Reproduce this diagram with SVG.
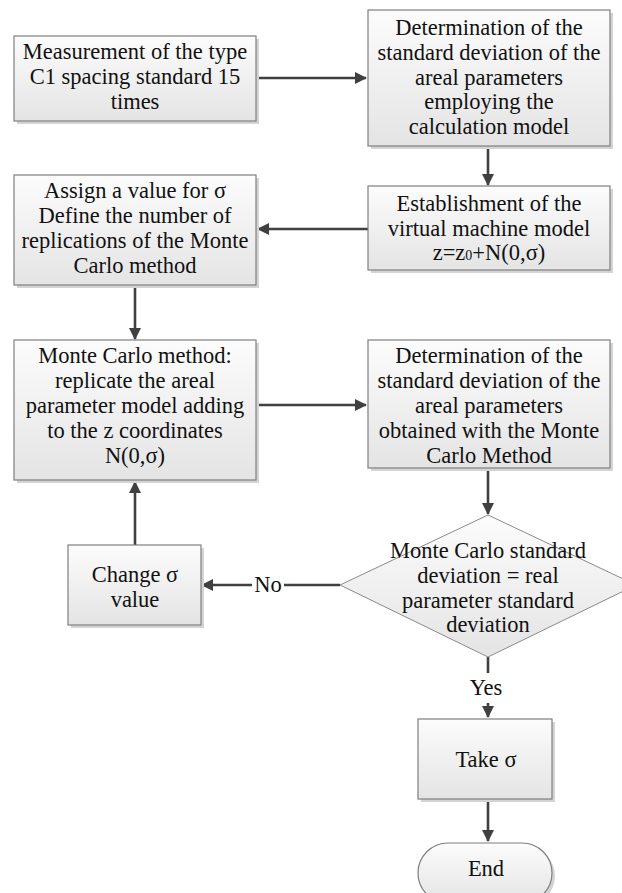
<svg xmlns="http://www.w3.org/2000/svg" width="622" height="893" viewBox="0 0 622 893">
<style>
.box{fill:url(#g);stroke:#7f7f7f;stroke-width:1.2}
.sh{fill:#d4d4d4}
.t{font-family:"Liberation Serif","DejaVu Serif",serif;font-size:22.5px;fill:#111;text-anchor:middle}
.c{stroke:#404040;stroke-width:2.6;fill:none}
</style>
<defs>
<linearGradient id="g" x1="0" y1="0" x2="0" y2="1">
<stop offset="0" stop-color="#fcfcfc"/>
<stop offset="1" stop-color="#e4e4e4"/>
</linearGradient>
<marker id="a" markerWidth="12" markerHeight="12" refX="11" refY="6" orient="auto" markerUnits="userSpaceOnUse">
<path d="M0,0 L12,6 L0,12 z" fill="#404040"/>
</marker>
</defs>
<g id="connectors">
<line class="c" x1="256" y1="78" x2="366" y2="78" marker-end="url(#a)"/>
<line class="c" x1="488" y1="146" x2="488" y2="185" marker-end="url(#a)"/>
<line class="c" x1="368" y1="229" x2="258" y2="229" marker-end="url(#a)"/>
<line class="c" x1="135" y1="286" x2="135" y2="339" marker-end="url(#a)"/>
<line class="c" x1="256" y1="405" x2="366" y2="405" marker-end="url(#a)"/>
<line class="c" x1="488" y1="471" x2="488" y2="514" marker-end="url(#a)"/>
<line class="c" x1="340" y1="585" x2="284" y2="585"/>
<line class="c" x1="252" y1="585" x2="202" y2="585" marker-end="url(#a)"/>
<text class="t" x="268" y="592">No</text>
<line class="c" x1="135" y1="545" x2="135" y2="482" marker-end="url(#a)"/>
<line class="c" x1="488" y1="657" x2="488" y2="673"/>
<text class="t" x="486" y="695">Yes</text>
<line class="c" x1="488" y1="703" x2="488" y2="717" marker-end="url(#a)"/>
<line class="c" x1="488" y1="799" x2="488" y2="841" marker-end="url(#a)"/>
</g>
<g id="n1">
<rect class="sh" x="17" y="39" width="242" height="85"/>
<rect class="box" x="14" y="36" width="242" height="85"/>
<text class="t" x="135" y="59">Measurement of the type</text>
<text class="t" x="135" y="84">C1 spacing standard 15</text>
<text class="t" x="135" y="109">times</text>
</g>
<g id="n2">
<rect class="sh" x="371" y="13" width="242" height="136"/>
<rect class="box" x="368" y="10" width="242" height="136"/>
<text class="t" x="489" y="35">Determination of the</text>
<text class="t" x="489" y="60">standard deviation of the</text>
<text class="t" x="489" y="85">areal parameters</text>
<text class="t" x="489" y="109">employing the</text>
<text class="t" x="489" y="134">calculation model</text>
</g>
<g id="n3">
<rect class="sh" x="371" y="189" width="242" height="84"/>
<rect class="box" x="368" y="186" width="242" height="84"/>
<text class="t" x="489" y="211">Establishment of the</text>
<text class="t" x="489" y="236">virtual machine model</text>
<text class="t" x="489" y="260">z=z<tspan font-size="14">0</tspan>+N(0,σ)</text>
</g>
<g id="n4">
<rect class="sh" x="17" y="178" width="242" height="110"/>
<rect class="box" x="14" y="175" width="242" height="110"/>
<text class="t" x="135" y="198">Assign a value for σ</text>
<text class="t" x="135" y="223">Define the number of</text>
<text class="t" x="135" y="248">replications of the Monte</text>
<text class="t" x="135" y="273">Carlo method</text>
</g>
<g id="n5">
<rect class="sh" x="17" y="343" width="242" height="140"/>
<rect class="box" x="14" y="340" width="242" height="140"/>
<text class="t" x="135" y="363">Monte Carlo method:</text>
<text class="t" x="135" y="388">replicate the areal</text>
<text class="t" x="135" y="413">parameter model adding</text>
<text class="t" x="135" y="438">to the z coordinates</text>
<text class="t" x="135" y="463">N(0,σ)</text>
</g>
<g id="n6">
<rect class="sh" x="371" y="343" width="242" height="128"/>
<rect class="box" x="368" y="340" width="242" height="128"/>
<text class="t" x="489" y="363">Determination of the</text>
<text class="t" x="489" y="388">standard deviation of the</text>
<text class="t" x="489" y="413">areal parameters</text>
<text class="t" x="489" y="438">obtained with the Monte</text>
<text class="t" x="489" y="463">Carlo Method</text>
</g>
<g id="n7">
<polygon points="488,515 636,585 488,657 340,585" fill="url(#g)" stroke="#8a8a8a" stroke-width="1"/>
<text class="t" x="488" y="558">Monte Carlo standard</text>
<text class="t" x="488" y="583">deviation = real</text>
<text class="t" x="488" y="608">parameter standard</text>
<text class="t" x="488" y="632">deviation</text>
</g>
<g id="n8">
<rect class="sh" x="71" y="548" width="133" height="80"/>
<rect class="box" x="68" y="545" width="133" height="80"/>
<text class="t" x="135" y="582">Change σ</text>
<text class="t" x="135" y="607">value</text>
</g>
<g id="n9">
<rect class="sh" x="421" y="722" width="134" height="80"/>
<rect class="box" x="418" y="719" width="134" height="80"/>
<text class="t" x="486" y="767">Take σ</text>
</g>
<g id="n10">
<rect class="sh" x="421" y="846" width="134" height="60" rx="30"/>
<rect class="box" x="418" y="843" width="134" height="60" rx="30"/>
<text class="t" x="486" y="876">End</text>
</g>
</svg>
